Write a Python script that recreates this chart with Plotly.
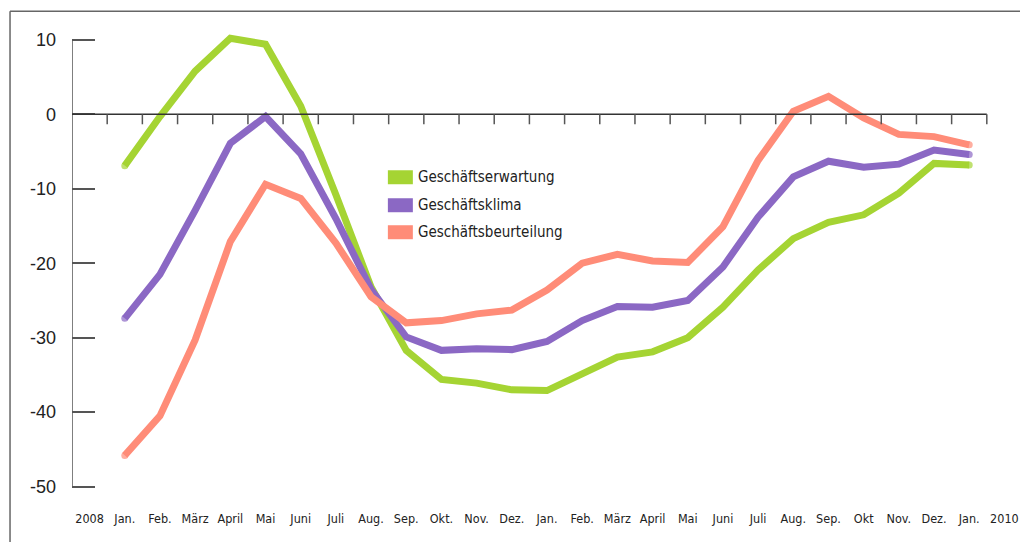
import plotly.graph_objects as go

# ---- data ----
x_labels = ["2008", "Jan.", "Feb.", "März", "April", "Mai", "Juni", "Juli", "Aug.", "Sep.",
            "Okt.", "Nov.", "Dez.", "Jan.", "Feb.", "März", "April", "Mai", "Juni", "Juli",
            "Aug.", "Sep.", "Okt", "Nov.", "Dez.", "Jan.", "2010"]
month_pos = list(range(1, 26))  # Jan. 2008 ... Jan. 2010

series_names = ["Geschäftserwartung", "Geschäftsklima", "Geschäftsbeurteilung"]
erwartung = [-6.9, -0.3, 5.8, 10.2, 9.4, 1.1, -10.8, -23.2, -31.7, -35.6, -36.1, -37.0, -37.1,
             -34.9, -32.6, -31.9, -30.0, -25.9, -20.9, -16.7, -14.5, -13.5, -10.6, -6.6, -6.8]
klima = [-27.4, -21.5, -12.9, -3.9, -0.3, -5.3, -14.0, -23.5, -29.9, -31.7, -31.5, -31.6, -30.5,
         -27.7, -25.8, -25.9, -25.0, -20.5, -13.8, -8.4, -6.3, -7.1, -6.7, -4.8, -5.4]
beurteilung = [-45.8, -40.5, -30.3, -17.1, -9.4, -11.3, -17.3, -24.5, -28.0, -27.7, -26.8, -26.3,
               -23.6, -20.0, -18.8, -19.7, -19.9, -15.1, -6.2, 0.4, 2.4, -0.5, -2.7, -3.0, -4.1]
y_ticks = [10, 0, -10, -20, -30, -40, -50]

colors = ["#A5D433", "#8B68C4", "#FF8C78"]
series = [erwartung, klima, beurteilung]

# ---- layout geometry (page has an 8px body margin) ----
OFF = 8
W, H = 1028 - OFF, 542 - OFF
ML, MR, MT, MB = 72 - OFF, 5.6, 9.7 - OFF, 33.15
XR = [-0.5, 26.5]
YR = [-53, 14]
pw, ph = W - ML - MR, H - MT - MB

def px_to_paper_x(px):  # page pixel -> paper fraction
    return (px - OFF - ML) / pw

def px_to_paper_y(py):
    return (H - MB - (py - OFF)) / ph

narrow = "DejaVu Sans Condensed, Liberation Sans Narrow, sans-serif"
regular = "Liberation Sans, Arial, sans-serif"
axis_col = "#555555"

fig = go.Figure()
for name, vals, col in zip(series_names, series, colors):
    n = len(vals)
    fig.add_trace(go.Scatter(
        x=month_pos, y=vals, mode="lines+markers", name=name,
        line=dict(color=col, width=7),
        marker=dict(color=col, size=[7] + [0] * (n - 2) + [7], line=dict(width=0)),
        showlegend=False, cliponaxis=False))

shapes = []
# outer frame (left and top)
fx = px_to_paper_x(10)
fy = px_to_paper_y(11)
shapes.append(dict(type="line", xref="paper", yref="paper", x0=fx, x1=fx, y0=fy,
                   y1=px_to_paper_y(560), line=dict(color="#666666", width=1.5)))
shapes.append(dict(type="line", xref="paper", yref="paper", x0=fx, x1=px_to_paper_x(1040),
                   y0=fy, y1=fy, line=dict(color="#666666", width=1.5)))
# y axis line
shapes.append(dict(type="line", xref="x", yref="y", x0=XR[0], x1=XR[0], y0=min(y_ticks),
                   y1=max(y_ticks), line=dict(color=axis_col, width=1.5)))
# zero line with downward ticks
last_x = len(month_pos) + 0.5
shapes.append(dict(type="line", xref="x", yref="y", x0=XR[0], x1=last_x, y0=0, y1=0,
                   line=dict(color="#333333", width=1.5)))
tick_len_units = 10 / (ph / (YR[1] - YR[0]))
for k in range(len(month_pos) + 1):
    xv = 0.5 + k
    shapes.append(dict(type="line", xref="x", yref="y", x0=xv, x1=xv, y0=0,
                       y1=-tick_len_units, line=dict(color=axis_col, width=1.5)))

# custom legend
annotations = []
leg_rows_px = [177, 205, 232]
for name, col, ry in zip(series_names, colors, leg_rows_px):
    shapes.append(dict(type="rect", xref="paper", yref="paper",
                       x0=px_to_paper_x(388), x1=px_to_paper_x(413),
                       y0=px_to_paper_y(ry + 7), y1=px_to_paper_y(ry - 7),
                       fillcolor=col, line=dict(width=0)))
    annotations.append(dict(xref="paper", yref="paper", x=px_to_paper_x(416),
                            y=px_to_paper_y(ry), text=name, showarrow=False,
                            xanchor="left", yanchor="middle",
                            font=dict(family=narrow, size=15, color="#222222")))

fig.update_layout(
    width=W, height=H,
    margin=dict(l=ML, r=MR, t=MT, b=MB, pad=0),
    paper_bgcolor="white", plot_bgcolor="white",
    showlegend=False,
    shapes=shapes, annotations=annotations,
    xaxis=dict(range=XR, tickmode="array", tickvals=list(range(len(x_labels))),
               ticktext=x_labels, ticks="", showline=False, showgrid=False,
               zeroline=False, tickfont=dict(family=narrow, size=12.5, color="#222222")),
    yaxis=dict(range=YR, tickmode="array", tickvals=y_ticks,
               ticktext=[str(v) for v in y_ticks], ticks="inside", ticklen=23,
               tickwidth=1.5, tickcolor=axis_col, showline=False, showgrid=False,
               zeroline=False, ticklabelstandoff=15,
               tickfont=dict(family=regular, size=18, color="#222222")),
)

fig.write_html("out.html")
